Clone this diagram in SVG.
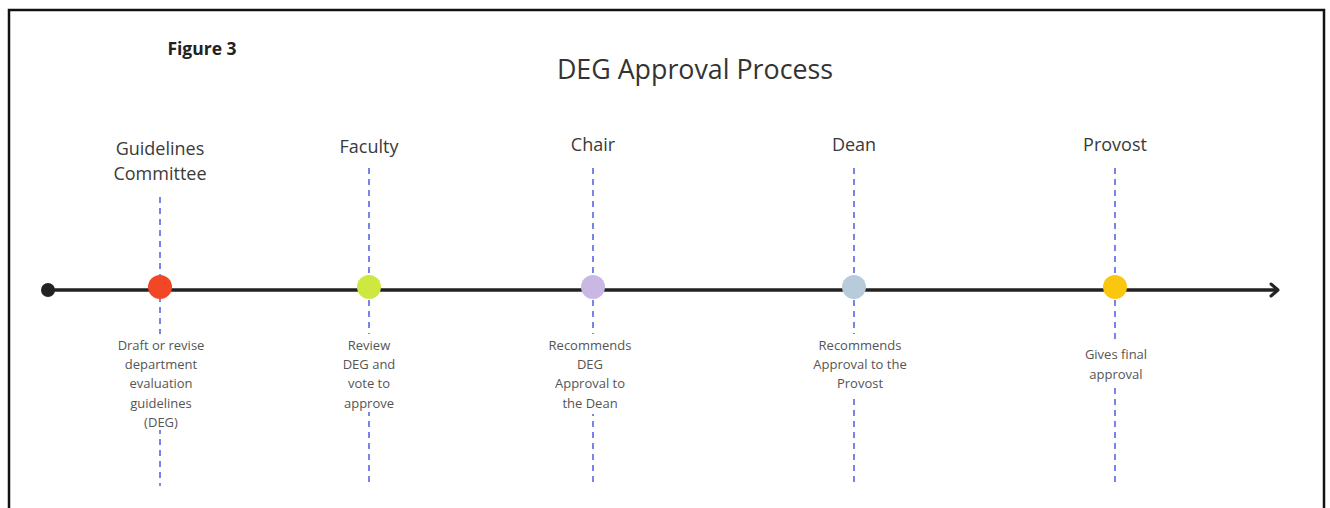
<svg xmlns="http://www.w3.org/2000/svg" width="1330" height="508" viewBox="0 0 1330 508">
<defs>
<style>
.t{font-family:"Open Sans","Noto Sans","Liberation Sans",sans-serif;fill:#3a3a3a;text-anchor:middle}
.h{font-size:18px}
.d{font-size:13px;fill:#555}
.g{stroke:#4c5ce0;stroke-width:1.5;stroke-dasharray:6 5;fill:none}
</style>
<marker id="ar" viewBox="0 0 12 16" refX="9" refY="8" markerWidth="12" markerHeight="16" markerUnits="userSpaceOnUse" orient="auto">
<path d="M2 2 L9 8 L2 14" fill="none" stroke="#222" stroke-width="3" stroke-linecap="round" stroke-linejoin="round"/>
</marker>
</defs>
<rect x="0" y="0" width="1330" height="508" fill="#fff"/>
<path d="M9 510 V10 H1324 V510" fill="none" stroke="#111" stroke-width="2.5"/>
<text x="202" y="55" class="t" style="font-size:17.5px;font-weight:bold;fill:#222">Figure 3</text>
<text x="695" y="79" class="t" style="font-size:26.8px;fill:#333">DEG Approval Process</text>
<g id="connectors">
<line x1="160" y1="197" x2="160" y2="486" class="g"/>
<line x1="369" y1="168" x2="369" y2="486" class="g"/>
<line x1="593" y1="168" x2="593" y2="486" class="g"/>
<line x1="854" y1="168" x2="854" y2="486" class="g"/>
<line x1="1115" y1="168" x2="1115" y2="486" class="g"/>
<line x1="48" y1="290" x2="1278" y2="290" stroke="#222" stroke-width="3.5" marker-end="url(#ar)"/>
<circle cx="48" cy="290" r="7" fill="#222"/>
</g>
<g id="n1">
<text x="160" y="155" class="t h">Guidelines</text>
<text x="160" y="180" class="t h">Committee</text>
<circle cx="160" cy="287" r="12" fill="#f24726"/>
<rect x="112" y="334" width="96" height="96" fill="#fff"/>
<text class="t d"><tspan x="161" y="350">Draft or revise</tspan><tspan x="161" y="369">department</tspan><tspan x="161" y="388">evaluation</tspan><tspan x="161" y="408">guidelines</tspan><tspan x="161" y="427">(DEG)</tspan></text>
</g>
<g id="n2">
<text x="369" y="153" class="t h">Faculty</text>
<circle cx="369" cy="287" r="12" fill="#cee741"/>
<rect x="337" y="334" width="64" height="78" fill="#fff"/>
<text class="t d"><tspan x="369" y="350">Review</tspan><tspan x="369" y="369">DEG and</tspan><tspan x="369" y="388">vote to</tspan><tspan x="369" y="408">approve</tspan></text>
</g>
<g id="n3">
<text x="593" y="151" class="t h">Chair</text>
<circle cx="593" cy="287" r="12" fill="#c9b8e4"/>
<rect x="543" y="334" width="96" height="80" fill="#fff"/>
<text class="t d"><tspan x="590" y="350">Recommends</tspan><tspan x="590" y="369">DEG</tspan><tspan x="590" y="388">Approval to</tspan><tspan x="590" y="408">the Dean</tspan></text>
</g>
<g id="n4">
<text x="854" y="151" class="t h">Dean</text>
<circle cx="854" cy="287" r="12" fill="#b8cbda"/>
<rect x="808" y="334" width="104" height="60" fill="#fff"/>
<text class="t d"><tspan x="860" y="350">Recommends</tspan><tspan x="860" y="369">Approval to the</tspan><tspan x="860" y="388">Provost</tspan></text>
</g>
<g id="n5">
<text x="1115" y="151" class="t h">Provost</text>
<circle cx="1115" cy="287" r="12" fill="#fac710"/>
<rect x="1080" y="343" width="74" height="42" fill="#fff"/>
<text class="t d"><tspan x="1116" y="359">Gives final</tspan><tspan x="1116" y="379">approval</tspan></text>
</g>
</svg>
